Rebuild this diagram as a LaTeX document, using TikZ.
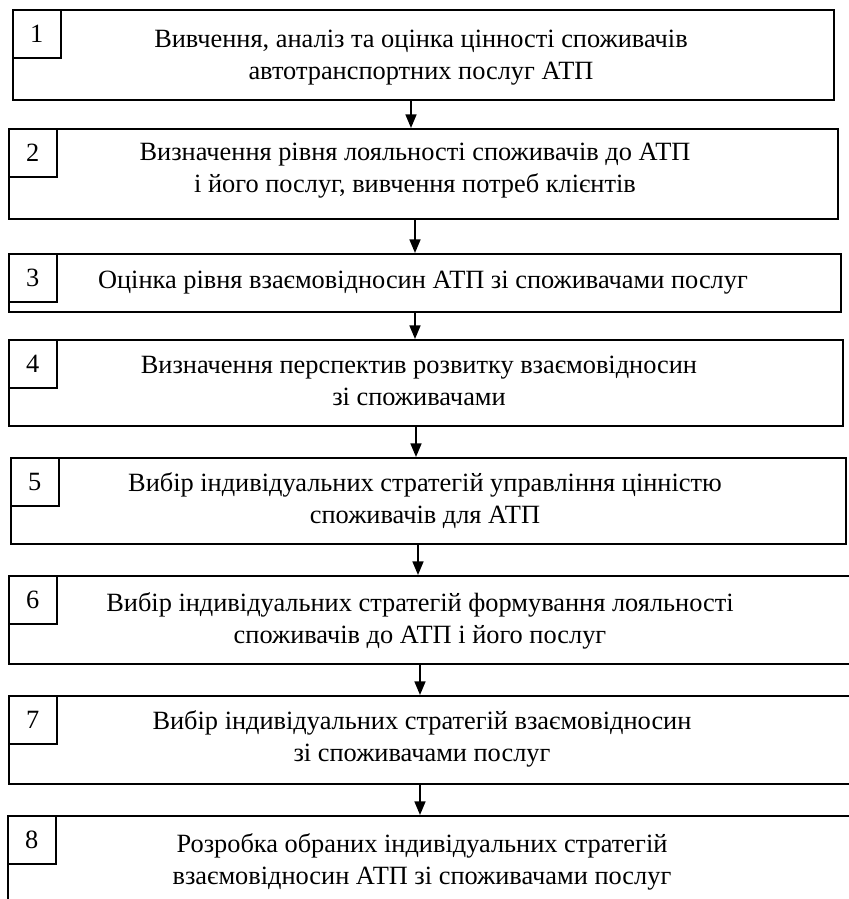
\documentclass[tikz,border=0pt]{standalone}
\usepackage{fontspec}
\setmainfont{Liberation Serif}
\usetikzlibrary{arrows.meta}
\newcommand{\upx}{0.55pt}

\begin{document}
\begin{tikzpicture}[x=\upx,y=-\upx,
  stepbox/.style={draw, line width=1.1pt, inner sep=0pt, anchor=north west},
  numbox/.style={draw, line width=0.9pt, inner sep=0pt, anchor=north west,
    minimum width=48*\upx, minimum height=48*\upx, font=\fontsize{14.5}{17.5}\selectfont},
  steptext/.style={align=center, inner sep=0pt, font=\fontsize{14.5}{17.5}\selectfont},
  arr/.style={line width=1.1pt, -{Triangle[length=7.5pt,width=6pt]}}]
\useasboundingbox (0,0) rectangle (849,899);
\clip (0,0) rectangle (849,899);

% frames of the steps
\foreach \i/\l/\t/\r/\b in {1/12/9/833/99, 2/8/128/837/218, 3/8/253/840/311,
  4/8/339/842/425, 5/10/457/845/543, 6/8/575/860/663, 7/8/695/860/783,
  8/7/815/860/920}
  \node [stepbox, minimum width={(\r-\l)*\upx}, minimum height={(\b-\t)*\upx}]
    (s\i) at (\l,\t) {};

% numbers
\foreach \i in {1,...,8}
  \node [numbox] (n\i) at (s\i.north west) {\i};

% texts
\node [steptext] (t1) at (421,58) {Вивчення, аналіз та оцінка цінності споживачів\\
  автотранспортних послуг АТП};
\node [steptext] (t2) at (415,171) {Визначення рівня лояльності споживачів до АТП\\
  і його послуг, вивчення потреб клієнтів};
\node [steptext] (t3) at (423,283) {Оцінка рівня взаємовідносин АТП зі споживачами послуг};
\node [steptext] (t4) at (419,381) {Визначення перспектив розвитку взаємовідносин\\
  зі споживачами};
\node [steptext] (t5) at (425,501) {Вибір індивідуальних стратегій управління цінністю\\
  споживачів для АТП};
\node [steptext] (t6) at (420,621) {Вибір індивідуальних стратегій формування лояльності\\
  споживачів до АТП і його послуг};
\node [steptext] (t7) at (422,739) {Вибір індивідуальних стратегій взаємовідносин\\
  зі споживачами послуг};
\node [steptext] (t8) at (422,862) {Розробка обраних індивідуальних стратегій\\
  взаємовідносин АТП зі споживачами послуг};

% arrows
\foreach \a/\b/\x in {1/2/399, 2/3/407, 3/4/407, 4/5/408, 5/6/408, 6/7/412, 7/8/412}
  \path [arr] ([xshift=\x*\upx]s\a.south west)
    edge ([xshift=\x*\upx]s\a.south west |- s\b.north);

\end{tikzpicture}
\end{document}
